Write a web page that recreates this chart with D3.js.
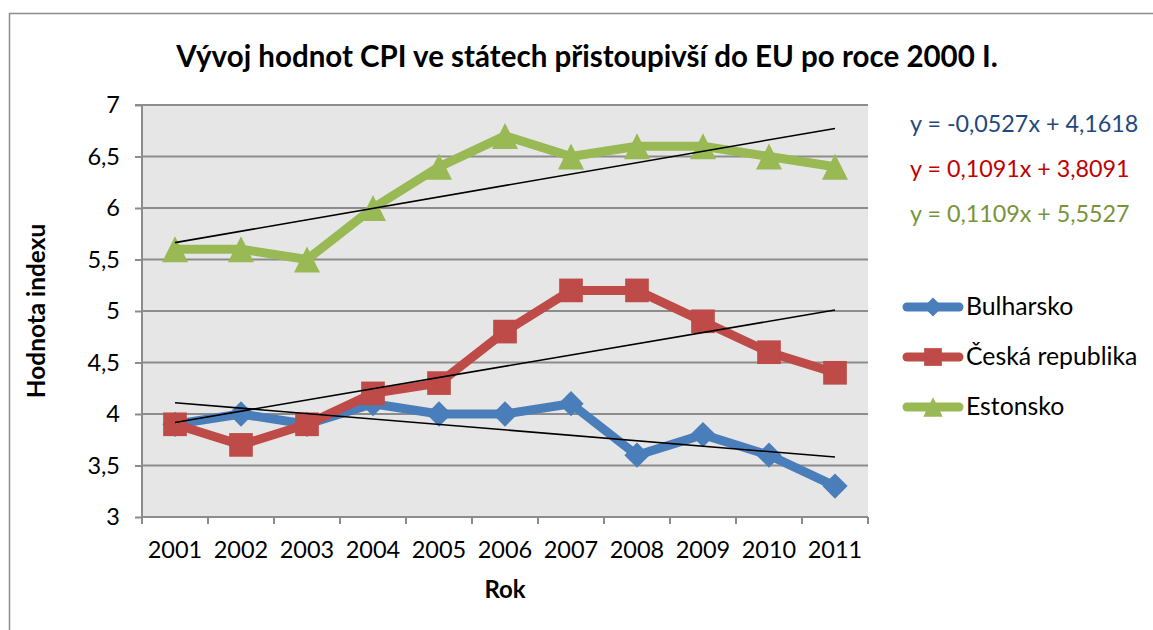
<!DOCTYPE html>
<html>
<head>
<meta charset="utf-8">
<script src="https://cdn.jsdelivr.net/npm/d3@7"></script>
<style>
  html, body { margin: 0; padding: 0; background: #fff; }
  svg text { font-family: Lato, "Open Sans", sans-serif; }
</style>
</head>
<body>
<svg id="chart" width="1153" height="630"></svg>
<script>
const years = ["2001","2002","2003","2004","2005","2006","2007","2008","2009","2010","2011"];
const bulharsko = [3.9, 4.0, 3.9, 4.1, 4.0, 4.0, 4.1, 3.6, 3.8, 3.6, 3.3];
const ceskaRepublika = [3.9, 3.7, 3.9, 4.2, 4.3, 4.8, 5.2, 5.2, 4.9, 4.6, 4.4];
const estonsko = [5.6, 5.6, 5.5, 6.0, 6.4, 6.7, 6.5, 6.6, 6.6, 6.5, 6.4];
const seriesNames = ["Bulharsko", "Česká republika", "Estonsko"];
const trendSlopes = [-0.0527, 0.1091, 0.1109];
const trendIntercepts = [4.1618, 3.8091, 5.5527];
const equationLabels = ["y = -0,0527x + 4,1618", "y = 0,1091x + 3,8091", "y = 0,1109x + 5,5527"];
const yTicks = [3, 3.5, 4, 4.5, 5, 5.5, 6, 6.5, 7];
const titleText = "Vývoj hodnot CPI ve státech přistoupivší do EU po roce 2000 I.";
const xTitle = "Rok";
const yTitle = "Hodnota indexu";

const seriesData = [bulharsko, ceskaRepublika, estonsko];
const lineColors = ["#4A7EBB", "#BE4B48", "#98B954"];
const eqColors = ["#1F497D", "#C00000", "#77933C"];
const markerTypes = ["diamond", "square", "triangle"];

const svg = d3.select("#chart");
const plot = { left: 142, right: 868, top: 105, bottom: 517 };

const x = d3.scaleBand().domain(years).range([plot.left, plot.right]).paddingInner(0).paddingOuter(0);
const y = d3.scaleLinear().domain([3, 7]).range([plot.bottom, plot.top]);
const cx = i => x(years[i]) + x.bandwidth() / 2;
const fmt = v => String(v).replace(".", ",");

// outer border
svg.append("rect").attr("x", 9.5).attr("y", 13.5).attr("width", 1200).attr("height", 700)
  .attr("fill", "none").attr("stroke", "#8C8C8C").attr("stroke-width", 1.5);

// plot background
svg.append("rect").attr("x", plot.left).attr("y", plot.top)
  .attr("width", plot.right - plot.left).attr("height", plot.bottom - plot.top)
  .attr("fill", "#E6E6E6");

// gridlines
svg.append("g").selectAll("line").data(yTicks.filter(t => t > 3)).join("line")
  .attr("x1", plot.left).attr("x2", plot.right)
  .attr("y1", d => y(d)).attr("y2", d => y(d))
  .attr("stroke", "#8C8C8C").attr("stroke-width", 2);

// y axis
const yAxis = d3.axisLeft(y).tickValues(yTicks).tickFormat(fmt).tickSize(7).tickPadding(14);
const gy = svg.append("g").attr("transform", `translate(${plot.left},0)`).call(yAxis);
gy.select(".domain").attr("stroke", "#8C8C8C").attr("stroke-width", 2).attr("d", `M-7,${plot.top}H0V${plot.bottom}`);
gy.selectAll(".tick line").attr("stroke", "#8C8C8C").attr("stroke-width", 2);
gy.selectAll(".tick text").attr("font-size", 23.5).attr("fill", "#000").attr("font-family", "Lato, sans-serif").attr("dx", "-1");

// x axis
const xAxis = d3.axisBottom(x).tickSize(0).tickPadding(24);
const gx = svg.append("g").attr("transform", `translate(0,${plot.bottom})`).call(xAxis);
gx.select(".domain").attr("stroke", "#8C8C8C").attr("stroke-width", 2).attr("d", `M${plot.left},0H${plot.right}`);
gx.selectAll(".tick text").attr("font-size", 23.5).attr("fill", "#000").attr("font-family", "Lato, sans-serif");
// boundary tick marks
const bounds = years.map(d => x(d)).concat([plot.right]);
gx.append("g").selectAll("line").data(bounds).join("line")
  .attr("x1", d => d).attr("x2", d => d).attr("y1", 0).attr("y2", 7)
  .attr("stroke", "#8C8C8C").attr("stroke-width", 2);

// series lines
const line = d3.line().x((d, i) => cx(i)).y(d => y(d));
const trianglePath = s => `M0,${-s/2}L${s/2},${s/2}L${-s/2},${s/2}Z`;
function markerPath(type) {
  if (type === "diamond") return d3.symbol(d3.symbolSquare, 320)();
  if (type === "square") return d3.symbol(d3.symbolSquare, 560)();
  return trianglePath(26);
}

seriesData.forEach((data, si) => {
  const g = svg.append("g");
  g.append("path").datum(data).attr("d", line)
    .attr("fill", "none").attr("stroke", lineColors[si]).attr("stroke-width", 9)
    .attr("stroke-linejoin", "round").attr("stroke-linecap", "round");
  g.selectAll("path.m").data(data).join("path").attr("class", "m")
    .attr("d", markerPath(markerTypes[si]))
    .attr("transform", (d, i) => `translate(${cx(i)},${y(d)})` + (markerTypes[si] === "diamond" ? " rotate(45)" : ""))
    .attr("fill", lineColors[si]);
});

// trend lines
trendSlopes.forEach((m, si) => {
  const pts = [1, years.length].map(k => [cx(k - 1), y(m * k + trendIntercepts[si])]);
  svg.append("path").attr("d", d3.line()(pts))
    .attr("stroke", "#000").attr("stroke-width", 1.6).attr("fill", "none");
});

// title
svg.append("text").attr("x", 587).attr("y", 67).attr("text-anchor", "middle")
  .attr("font-size", 29.5).attr("font-weight", "bold").attr("fill", "#000").text(titleText);

// axis titles
svg.append("text").attr("x", 505).attr("y", 598).attr("text-anchor", "middle")
  .attr("font-size", 24).attr("font-weight", "bold").attr("fill", "#000").text(xTitle);
svg.append("text").attr("transform", "translate(45,311) rotate(-90)").attr("text-anchor", "middle")
  .attr("font-size", 24.4).attr("font-weight", "bold").attr("fill", "#000").text(yTitle);

// equations
equationLabels.forEach((t, si) => {
  svg.append("text").attr("x", 910).attr("y", 132 + si * 45)
    .attr("font-size", 23.3).attr("fill", eqColors[si]).text(t);
});

// legend
seriesNames.forEach((name, si) => {
  const ly = 307 + si * 50;
  const g = svg.append("g");
  g.append("line").attr("x1", 907).attr("x2", 959).attr("y1", ly).attr("y2", ly)
    .attr("stroke", lineColors[si]).attr("stroke-width", 9).attr("stroke-linecap", "round");
  const sc = 0.75;
  g.append("path").attr("d", markerPath(markerTypes[si]))
    .attr("transform", `translate(933,${ly}) scale(${sc})` + (markerTypes[si] === "diamond" ? " rotate(45)" : ""))
    .attr("fill", lineColors[si]);
  g.append("text").attr("x", 966).attr("y", ly + 8).attr("font-size", 24.8).attr("fill", "#000").text(name);
});
</script>
</body>
</html>
